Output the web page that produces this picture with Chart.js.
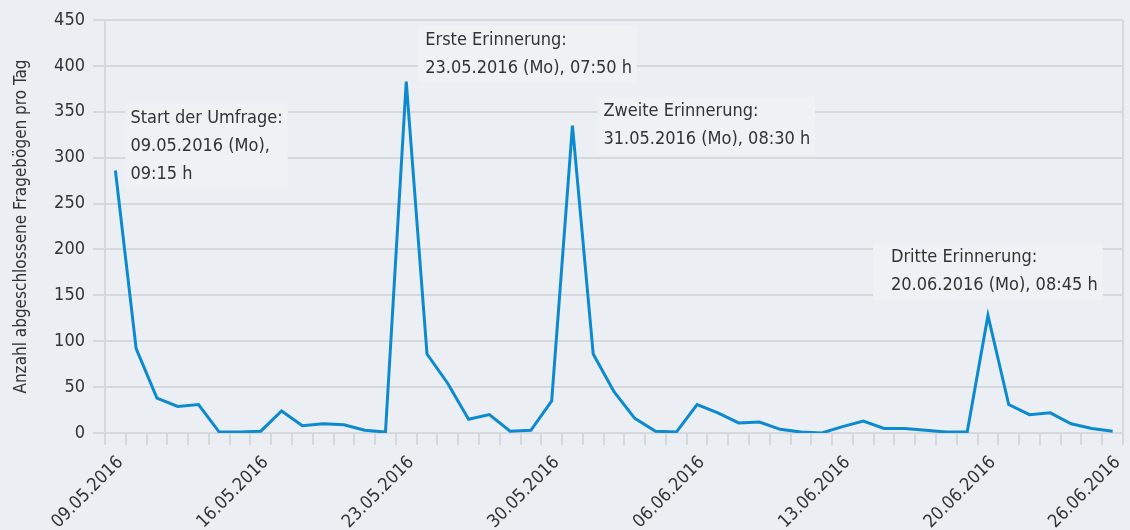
<!DOCTYPE html>
<html lang="de">
<head>
<meta charset="UTF-8">
<title>Abgeschlossene Fragebögen pro Tag</title>
<style>
  body { margin: 0; background: #ebeef2; }
  .wrap { width: 1130px; height: 530px; position: relative; }
</style>
</head>
<body>
<div class="wrap"><canvas id="chart"></canvas></div>
<script src="https://cdn.jsdelivr.net/npm/chart.js"></script>
<script>
// one entry per day of the survey
const days = [
  '09.05.2016', '10.05.2016', '11.05.2016', '12.05.2016', '13.05.2016', '14.05.2016', '15.05.2016',
  '16.05.2016', '17.05.2016', '18.05.2016', '19.05.2016', '20.05.2016', '21.05.2016', '22.05.2016',
  '23.05.2016', '24.05.2016', '25.05.2016', '26.05.2016', '27.05.2016', '28.05.2016', '29.05.2016',
  '30.05.2016', '31.05.2016', '01.06.2016', '02.06.2016', '03.06.2016', '04.06.2016', '05.06.2016',
  '06.06.2016', '07.06.2016', '08.06.2016', '09.06.2016', '10.06.2016', '11.06.2016', '12.06.2016',
  '13.06.2016', '14.06.2016', '15.06.2016', '16.06.2016', '17.06.2016', '18.06.2016', '19.06.2016',
  '20.06.2016', '21.06.2016', '22.06.2016', '23.06.2016', '24.06.2016', '25.06.2016', '26.06.2016'
];

const completed = [
  286, 92, 38, 29, 31, 1, 1, 2, 24, 8, 10, 9, 3, 1,
  383, 86, 54, 15, 20, 2, 3, 35, 335, 86, 45, 16, 2, 1,
  31, 22, 11, 12, 4, 1, 0, 7, 13, 5, 5, 3, 1, 1,
  128, 31, 20, 22, 10, 5, 2
];

const shownDays = ['09.05.2016', '16.05.2016', '23.05.2016', '30.05.2016',
                   '06.06.2016', '13.06.2016', '20.06.2016', '26.06.2016'];

const yTicks = [0, 50, 100, 150, 200, 250, 300, 350, 400, 450];

const notes = [
  ['Start der Umfrage:', '09.05.2016 (Mo),', '09:15 h'],
  ['Erste Erinnerung:', '23.05.2016 (Mo), 07:50 h'],
  ['Zweite Erinnerung:', '31.05.2016 (Mo), 08:30 h'],
  ['Dritte Erinnerung:', '20.06.2016 (Mo), 08:45 h']
];

const FONT = '"DejaVu Sans Condensed", "DejaVu Sans", sans-serif';
const gridColor = '#d5d8dc';
const textColor = '#333333';

// where each note sits: category index, pixel shift, value of first text line
const notePlacement = [
  { at: 0, dx: 15, v: 343, padL: 5 },
  { at: 14, dx: 19, v: 428, padL: 7 },
  { at: 22, dx: 31, v: 350, padL: 6 },
  { at: 42, dx: -97, v: 191, padL: 18 }
];

const notesPlugin = {
  id: 'notes',
  beforeDatasetsDraw(chart) {
    const { ctx, scales: { x, y } } = chart;
    ctx.save();
    ctx.font = '18px ' + FONT;
    ctx.textBaseline = 'middle';
    ctx.textAlign = 'left';
    notes.forEach((lines, i) => {
      const p = notePlacement[i];
      const left = x.getPixelForValue(p.at) + p.dx;
      const top = y.getPixelForValue(p.v);
      const w = Math.max(...lines.map(l => ctx.measureText(l).width));
      ctx.fillStyle = '#eff1f4';
      ctx.fillRect(left - p.padL, top - 15, w + p.padL + 5, 28 * (lines.length - 1) + 30);
      ctx.fillStyle = textColor;
      lines.forEach((l, k) => ctx.fillText(l, left, top + 28 * k));
    });
    ctx.restore();
  }
};

new Chart(document.getElementById('chart'), {
  type: 'line',
  data: {
    labels: days,
    datasets: [{
      data: completed,
      borderColor: '#0b8ad0',
      borderWidth: 3,
      pointRadius: 0,
      tension: 0,
      fill: false
    }]
  },
  options: {
    responsive: true,
    maintainAspectRatio: false,
    animation: false,
    layout: { padding: { top: 20, right: 7, left: 0, bottom: 0 } },
    plugins: { legend: { display: false }, tooltip: { enabled: false } },
    scales: {
      x: {
        offset: true,
        afterFit: s => { s.height = 97; s.paddingLeft = 0; s.paddingRight = 0; },
        border: { display: false },
        grid: {
          offset: true,
          lineWidth: 2,
          tickLength: 12,
          tickColor: gridColor,
          color: c => (c.type === 'tick' && c.index > 0) ? 'rgba(0,0,0,0)' : gridColor
        },
        ticks: {
          autoSkip: false,
          minRotation: 45,
          maxRotation: 45,
          padding: 7,
          labelOffset: 5,
          color: textColor,
          font: { family: FONT, size: 18 },
          callback: function (v) {
            const d = this.getLabelForValue(v);
            return shownDays.includes(d) ? d : '';
          }
        }
      },
      y: {
        min: yTicks[0],
        max: yTicks[yTicks.length - 1],
        afterFit: s => { s.width = 105; },
        afterBuildTicks: s => { s.ticks = yTicks.map(v => ({ value: v })); },
        border: { display: true, color: gridColor, width: 2 },
        grid: { color: gridColor, lineWidth: 2, tickLength: 12 },
        ticks: {
          padding: 8,
          color: textColor,
          font: { family: FONT, size: 18 }
        },
        title: {
          display: true,
          text: 'Anzahl abgeschlossene Fragebögen pro Tag',
          color: textColor,
          font: { family: FONT, size: 17 },
          padding: { top: 11, bottom: 0 }
        }
      }
    }
  },
  plugins: [notesPlugin]
});
</script>
</body>
</html>
